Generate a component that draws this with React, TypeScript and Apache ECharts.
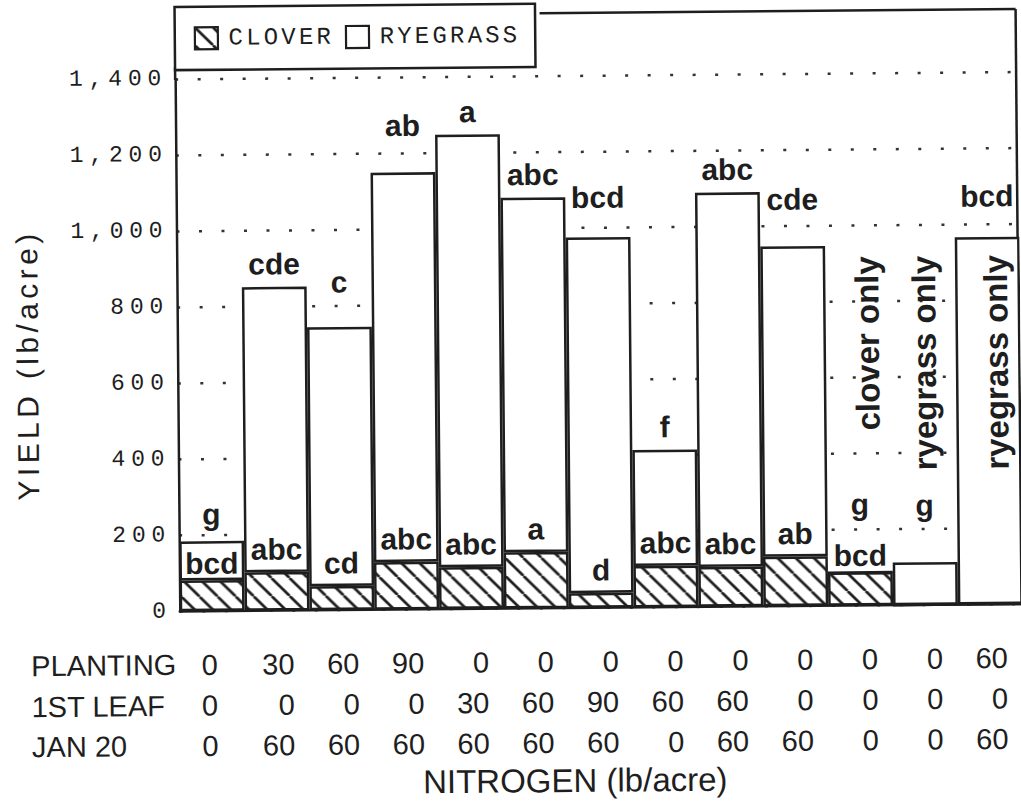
import React, { useEffect, useRef } from "react";
import * as echarts from "echarts";

// ---------------- data ----------------
const categories = ["T1", "T2", "T3", "T4", "T5", "T6", "T7", "T8", "T9", "T10", "T11", "T12", "T13"];
const cloverYield = [81, 101, 63, 125, 110, 148, 39, 109, 105, 130, 87, 0, 0];
const ryegrassYield = [103, 750, 681, 1024, 1137, 932, 935, 305, 984, 816, 0, 112, 966];
const cloverLetters = ["bcd", "abc", "cd", "abc", "abc", "a", "d", "abc", "abc", "ab", "bcd", "", ""];
const ryegrassLetters = ["g", "cde", "c", "ab", "a", "abc", "bcd", "f", "abc", "cde", "g", "g", "bcd"];
const notes = ["", "", "", "", "", "", "", "", "", "", "clover only", "ryegrass only", "ryegrass only"];
const planting = [0, 30, 60, 90, 0, 0, 0, 0, 0, 0, 0, 0, 60];
const firstLeaf = [0, 0, 0, 0, 30, 60, 90, 60, 60, 0, 0, 0, 0];
const jan20 = [0, 60, 60, 60, 60, 60, 60, 0, 60, 60, 0, 0, 60];
const rowLabels = ["PLANTING", "1ST LEAF", "JAN 20"];
const yMin = 0;
const yMax = 1400;
const yStep = 200;
const seriesNames = ["CLOVER", "RYEGRASS"];
const xTitle = "NITROGEN (lb/acre)";
const yTitle = "YIELD (lb/acre)";

// ---------------- style ----------------
const INK = "#1e1e1e";
const SANS = '"Liberation Sans", Arial, Helvetica, sans-serif';
const MONO = '"Liberation Mono", "Courier New", monospace';
const LW = 2.5;
const GRID = { left: 178, top: 76, width: 849, height: 532.5 };
const BASE_Y = GRID.top + GRID.height;
const ROW_Y = [662, 703, 743];
// label distances for special bars (index -> px)
const cloverDist: Record<number, number> = { 0: 2, 10: 2 };
const ryeDist: Record<number, number> = { 0: 12, 2: 30, 3: 32, 6: 25, 9: 32, 10: 52, 11: 42, 12: 26 };
const noteShift: Record<number, number> = { 10: 9, 11: 1, 12: 8 };
const noteTopValue = 918;

function spaced(text: string, key: string, firstKey?: string) {
  return text
    .split("")
    .map((c, i) => `{${i === 0 && firstKey ? firstKey : key}|${c === " " ? "\u00a0" : c}}`)
    .join("");
}

function fmtNum(v: number) {
  return v.toLocaleString("en-US");
}

export default function App() {
  const ref = useRef<HTMLDivElement>(null);

  useEffect(() => {
    const el = ref.current;
    if (!el) return;
    const chart = echarts.init(el, null, { renderer: "svg" });

    // hatch pattern for clover
    const P = 18;
    const cv = document.createElement("canvas");
    cv.width = P;
    cv.height = P;
    const ctx = cv.getContext("2d")!;
    ctx.fillStyle = "#fff";
    ctx.fillRect(0, 0, P, P);
    ctx.strokeStyle = INK;
    ctx.lineWidth = 2.7;
    for (let k = -1; k <= 1; k++) {
      ctx.beginPath();
      ctx.moveTo(k * P, 0);
      ctx.lineTo(k * P + P, P);
      ctx.stroke();
    }
    const hatch: any = { image: cv.toDataURL(), repeat: "repeat", imageWidth: P, imageHeight: P };

    const letterLabel = {
      show: true,
      position: "top",
      fontFamily: SANS,
      fontWeight: "bold",
      fontSize: 30,
      color: INK,
      distance: 8,
    };

    const baseGraphic: any[] = [
      { type: "line", z: 1, shape: { x1: 543, y1: 13.5, x2: 1019, y2: 13.5 }, style: { stroke: INK, lineWidth: LW } },
      { type: "line", z: 1, shape: { x1: 1019, y1: 13.5, x2: 1019, y2: BASE_Y }, style: { stroke: INK, lineWidth: LW } },
      { type: "line", z: 1, shape: { x1: GRID.left, y1: 64, x2: GRID.left, y2: GRID.top + 1 }, style: { stroke: INK, lineWidth: LW } },
      ...rowLabels.map((t, i) => ({
        type: "text",
        z: 5,
        x: 29,
        y: ROW_Y[i],
        style: { text: t, fontFamily: SANS, fontSize: 29, fill: INK, align: "left", verticalAlign: "middle" },
      })),
      {
        type: "text",
        z: 5,
        x: 572,
        y: 781,
        style: { text: xTitle, fontFamily: SANS, fontSize: 33, fill: INK, align: "center", verticalAlign: "middle" },
      },
      {
        type: "text",
        z: 5,
        x: 28,
        y: 363,
        rotation: Math.PI / 2,
        style: {
          text: spaced(yTitle, "t"),
          rich: { t: { fontFamily: SANS, fontSize: 30, fill: INK, padding: [0, 2.2] } },
          align: "center",
          verticalAlign: "middle",
        },
      },
    ];

    const numStyle = { fontFamily: SANS, fontSize: 29, color: INK, lineHeight: 40.5 };

    const option: any = {
      animation: false,
      textStyle: { fontFamily: SANS, color: INK },
      grid: { ...GRID, containLabel: false },
      legend: {
        left: GRID.left,
        top: 4,
        z: 10,
        selectedMode: false,
        data: seriesNames,
        icon: "rect",
        itemWidth: 23,
        itemHeight: 22,
        itemGap: 14,
        padding: [19.5, 18, 19.5, 19],
        backgroundColor: "#fff",
        borderColor: INK,
        borderWidth: LW,
        itemStyle: { borderColor: INK, borderWidth: 2.2 },
        formatter: (name: string) => spaced(name, "m", "f"),
        textStyle: {
          rich: {
            f: { fontFamily: MONO, fontSize: 24, color: INK, padding: [0, 1.6, 0, 5.6] },
            m: { fontFamily: MONO, fontSize: 24, color: INK, padding: [0, 1.6] },
          },
        },
      },
      xAxis: {
        type: "category",
        data: categories,
        axisLine: { show: true, lineStyle: { color: INK, width: LW } },
        axisTick: { show: false },
        splitLine: { show: false },
        axisLabel: {
          interval: 0,
          margin: 33.5,
          formatter: (_v: string, i: number) => {
            const k = i === 0 ? "f" : "r";
            return `{${k}|${planting[i]}}\n{${k}|${firstLeaf[i]}}\n{${k}|${jan20[i]}}`;
          },
          rich: {
            r: { ...numStyle, width: 34, align: "right" },
            f: { ...numStyle, padding: [0, 6, 0, 0] },
          },
        },
      },
      yAxis: {
        type: "value",
        min: yMin,
        max: yMax,
        interval: yStep,
        axisLine: { show: true, lineStyle: { color: INK, width: LW } },
        axisTick: { show: false },
        splitLine: { show: true, lineStyle: { color: "#333", width: 2.5, type: [3, 19.5] } },
        axisLabel: {
          margin: 11,
          formatter: (v: number) => spaced(fmtNum(v), "m"),
          rich: { m: { fontFamily: MONO, fontSize: 23, color: INK, padding: [0, 2.9] } },
        },
      },
      series: [
        {
          name: seriesNames[0],
          type: "bar",
          stack: "yield",
          z: 3,
          barCategoryGap: 0,
          itemStyle: { color: hatch, borderColor: INK, borderWidth: LW },
          label: { ...letterLabel, formatter: (p: any) => cloverLetters[p.dataIndex] },
          data: cloverYield.map((v, i) =>
            cloverDist[i] !== undefined ? { value: v, label: { distance: cloverDist[i] } } : v
          ),
        },
        {
          name: seriesNames[1],
          type: "bar",
          stack: "yield",
          z: 2,
          barCategoryGap: 0,
          itemStyle: { color: "#fff", borderColor: INK, borderWidth: LW },
          label: { ...letterLabel, formatter: (p: any) => ryegrassLetters[p.dataIndex] },
          data: ryegrassYield.map((v, i) =>
            ryeDist[i] !== undefined ? { value: v, label: { distance: ryeDist[i] } } : v
          ),
        },
      ],
      graphic: baseGraphic,
    };

    chart.setOption(option);

    const yTop = chart.convertToPixel({ yAxisIndex: 0 }, noteTopValue) as number;
    const noteGraphic = notes
      .map((t, i) => ({ t, i }))
      .filter((d) => d.t)
      .map((d) => {
        const x = chart.convertToPixel({ xAxisIndex: 0 }, categories[d.i]) as number;
        return {
          type: "text",
          z: 6,
          x: x + (noteShift[d.i] || 0),
          y: yTop,
          rotation: Math.PI / 2,
          style: {
            text: d.t,
            fontFamily: SANS,
            fontWeight: "bold",
            fontSize: 33,
            fill: INK,
            align: "right",
            verticalAlign: "middle",
          },
        };
      });
    chart.setOption({ graphic: [...baseGraphic, ...noteGraphic] });

    return () => chart.dispose();
  }, []);

  return (
    <div style={{ position: "fixed", left: 0, top: 0, width: 1021, height: 808, overflow: "hidden", background: "#fff" }}>
      <div
        ref={ref}
        style={{ width: 1021, height: 808, transform: "rotate(-0.5deg)", transformOrigin: "50% 50%" }}
      />
    </div>
  );
}
